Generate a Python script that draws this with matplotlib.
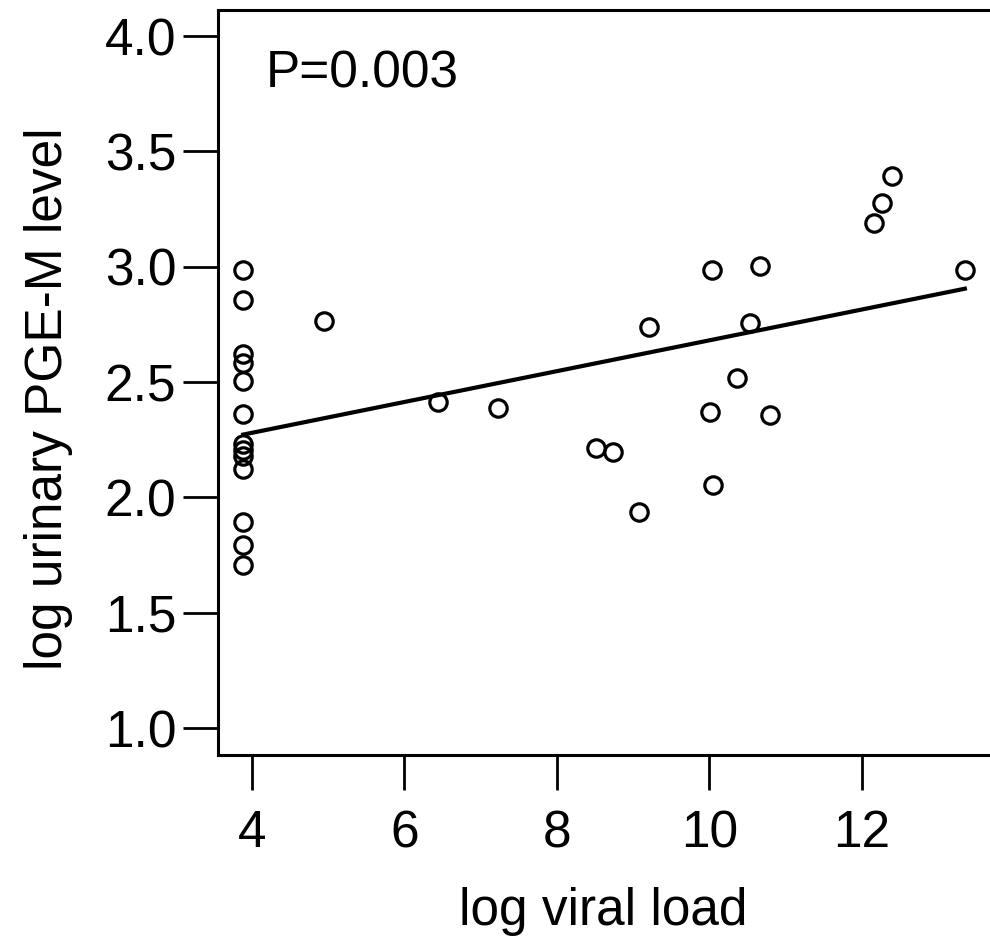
import numpy as np
import matplotlib
matplotlib.use('Agg')
import matplotlib.pyplot as plt

plt.rcParams['font.family'] = ['Liberation Sans', 'DejaVu Sans']

# viral load vs urinary PGE-M
viral_load = [3.886] * 13 + [4.944, 6.443, 7.230, 8.507, 8.730, 9.080, 9.211,
                             10.007, 10.040, 10.050, 10.357, 10.531, 10.660,
                             10.793, 12.160, 12.260, 12.390, 13.350]
pge_m = [2.985, 2.855, 2.621, 2.581, 2.505, 2.360, 2.233, 2.205, 2.179, 2.124,
         1.892, 1.793, 1.707,
         2.766, 2.414, 2.388, 2.212, 2.198, 1.938, 2.737,
         2.371, 2.985, 2.053, 2.518, 2.754, 3.003,
         2.359, 3.188, 3.276, 3.393, 2.985]
x_ticks = [4, 6, 8, 10, 12]
y_ticks = [1.0, 1.5, 2.0, 2.5, 3.0, 3.5, 4.0]
p_text = 'P=0.003'

x = np.array(viral_load)
y = np.array(pge_m)

fig = plt.figure(figsize=(9.9, 9.39), dpi=100)
ax = fig.add_axes([218 / 990, 184 / 939, 772 / 990, 745 / 939])

ax.plot(x, y, linestyle='none', marker='o', markersize=12.5,
        markerfacecolor='none', markeredgecolor='black', markeredgewidth=2.3)

# least squares fit line
slope, intercept = np.polyfit(x, y, 1)
xl = np.array([x.min(), x.max()])
ax.plot(xl, intercept + slope * xl, color='black', linewidth=3.0)

ax.set_xlim(3.554, 13.68)
ax.set_ylim(0.883, 4.113)

ax.spines['right'].set_visible(False)
for s in ['left', 'bottom', 'top']:
    ax.spines[s].set_linewidth(2.2)

# ticks pointing outward like the R figure
ax.set_xticks(x_ticks)
ax.set_yticks(y_ticks)
ax.set_yticklabels([f'{v:.1f}' for v in y_ticks])
ax.tick_params(axis='both', length=25, width=2.0, labelsize=37)
ax.tick_params(axis='y', pad=5)
ax.tick_params(axis='x', pad=14)

ax.text(0.062, 0.8966, p_text, transform=ax.transAxes, fontsize=37,
        ha='left', va='baseline')

fig.text(603 / 990, 14 / 939, 'log viral load', fontsize=37,
         ha='center', va='baseline')
fig.text(62 / 990, 540 / 939, 'log urinary PGE-M level', fontsize=37,
         rotation=90, rotation_mode='anchor', ha='center', va='baseline')

fig.savefig('out.png', dpi=100)
